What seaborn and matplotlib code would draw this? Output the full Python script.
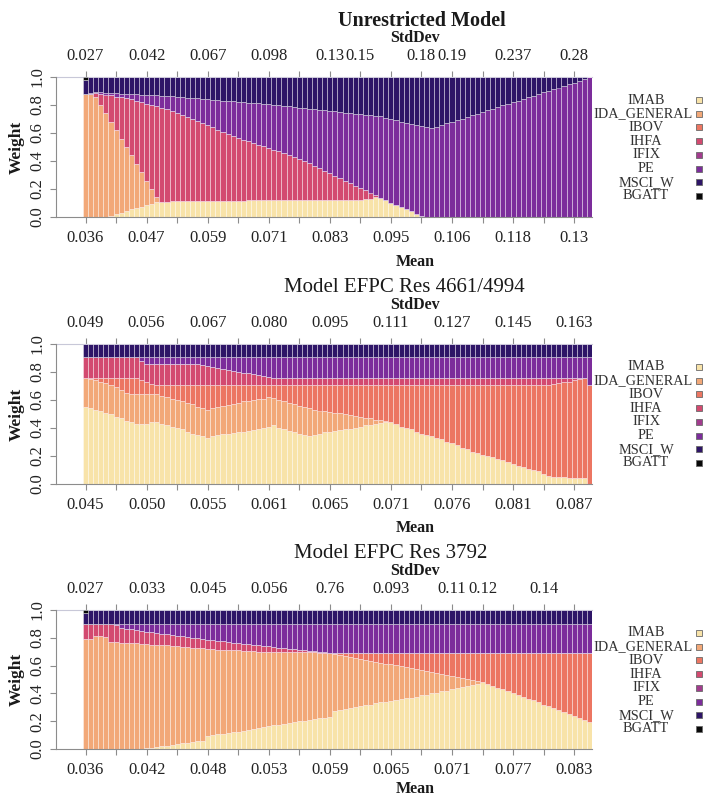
import numpy as np
import pandas as pd
import matplotlib
matplotlib.use("Agg")
import matplotlib.pyplot as plt
import seaborn as sns
from matplotlib.patches import Rectangle

# ---------------- data ----------------
assets = ["IMAB", "IDA_GENERAL", "IBOV", "IHFA", "IFIX", "PE", "MSCI_W", "BGATT"]
colors = ["#F8E3A9", "#F2A878", "#EC7662", "#D34A70", "#A23C8E", "#7C2D9B", "#2E1567", "#080808"]

tick_idx = list(range(0, 97, 6))

# Panel 1 - cumulative upper edge of each asset band
p1_imab = [0, 0, 0, 0, 0, 0.01, 0.02, 0.03, 0.045, 0.055,
           0.065, 0.075, 0.085, 0.095, 0.105, 0.11, 0.11, 0.112, 0.112, 0.113,
           0.113, 0.114, 0.114, 0.115, 0.115, 0.115, 0.116, 0.116, 0.116, 0.117,
           0.117, 0.117, 0.118, 0.118, 0.118, 0.119, 0.119, 0.119, 0.12, 0.12,
           0.12, 0.12, 0.121, 0.121, 0.121, 0.122, 0.122, 0.122, 0.123, 0.123,
           0.123, 0.124, 0.124, 0.125, 0.125, 0.127, 0.132, 0.14, 0.135, 0.12,
           0.10, 0.085, 0.07, 0.055, 0.04, 0.025, 0.01, 0, 0, 0] + [0] * 30
p1_ida = [0.88, 0.88, 0.86, 0.80, 0.74, 0.68, 0.62, 0.56, 0.50, 0.44,
          0.38, 0.32, 0.26, 0.20, 0.14] + p1_imab[15:]
p1_ibov = list(p1_ida)
p1_ihfa = [0.88, 0.88, 0.885, 0.88, 0.875, 0.87, 0.86, 0.855, 0.85, 0.84,
           0.83, 0.82, 0.81, 0.80, 0.79, 0.78, 0.77, 0.755, 0.745, 0.73,
           0.715, 0.70, 0.685, 0.67, 0.655, 0.64, 0.625, 0.61, 0.595, 0.58,
           0.565, 0.55, 0.54, 0.53, 0.515, 0.505, 0.495, 0.48, 0.47, 0.455,
           0.445, 0.43, 0.415, 0.40, 0.385, 0.365, 0.35, 0.33, 0.315, 0.295,
           0.28, 0.26, 0.245, 0.225, 0.21, 0.19, 0.175, 0.155] + p1_imab[58:]
p1_ifix = list(p1_ihfa)
p1_pe = [0.88, 0.885, 0.89, 0.89, 0.888, 0.886, 0.884, 0.882, 0.88, 0.878,
         0.876, 0.874, 0.872, 0.87, 0.868, 0.866, 0.864, 0.862, 0.859, 0.856,
         0.853, 0.85, 0.847, 0.844, 0.841, 0.838, 0.835, 0.832, 0.829, 0.826,
         0.823, 0.82, 0.817, 0.814, 0.811, 0.808, 0.805, 0.802, 0.798, 0.794,
         0.79, 0.786, 0.782, 0.778, 0.774, 0.77, 0.766, 0.762, 0.758, 0.754,
         0.75, 0.746, 0.742, 0.738, 0.734, 0.73, 0.726, 0.722, 0.718, 0.71,
         0.70, 0.69, 0.68, 0.672, 0.664, 0.656, 0.648, 0.64, 0.635, 0.645,
         0.657, 0.668, 0.68, 0.692, 0.703, 0.715, 0.727, 0.738, 0.75, 0.762,
         0.773, 0.785, 0.797, 0.808, 0.82, 0.832, 0.843, 0.855, 0.867, 0.878,
         0.89, 0.902, 0.913, 0.925, 0.937, 0.948, 0.96, 0.972, 0.983, 1.0]
p1_msci = [0.98] + [1.0] * 99
p1_bgatt = [1.0] * 100
p1_mean_labels = ["0.036", "", "0.047", "", "0.059", "", "0.071", "", "0.083", "",
                  "0.095", "", "0.106", "", "0.118", "", "0.13"]
p1_std_labels = ["0.027", "", "0.042", "", "0.067", "", "0.098", "", "0.13", "0.15",
                 "", "0.18", "0.19", "", "0.237", "", "0.28"]

# Panel 2
p2_imab = [0.55, 0.54, 0.53, 0.52, 0.51, 0.50, 0.48, 0.47, 0.45, 0.44,
           0.43, 0.43, 0.43, 0.44, 0.44, 0.43, 0.42, 0.41, 0.40, 0.39,
           0.37, 0.36, 0.35, 0.34, 0.33, 0.34, 0.35, 0.355, 0.36, 0.365,
           0.37, 0.375, 0.38, 0.385, 0.39, 0.40, 0.41, 0.42, 0.40, 0.39,
           0.38, 0.37, 0.36, 0.35, 0.345, 0.35, 0.36, 0.37, 0.375, 0.38,
           0.385, 0.39, 0.39, 0.40, 0.41, 0.42, 0.425, 0.43, 0.435, 0.44,
           0.44, 0.43, 0.41, 0.40, 0.39, 0.37, 0.36, 0.35, 0.34, 0.33,
           0.32, 0.30, 0.29, 0.28, 0.26, 0.25, 0.23, 0.22, 0.21, 0.20,
           0.19, 0.18, 0.17, 0.155, 0.14, 0.13, 0.12, 0.11, 0.10, 0.09,
           0.075, 0.06, 0.05, 0.05, 0.05, 0.045, 0.045, 0.04, 0.04, 0.0]
p2_ida = [0.76, 0.75, 0.74, 0.73, 0.72, 0.71, 0.69, 0.67, 0.65, 0.64,
          0.64, 0.64, 0.64, 0.645, 0.64, 0.63, 0.62, 0.61, 0.60, 0.59,
          0.58, 0.57, 0.55, 0.54, 0.53, 0.54, 0.55, 0.56, 0.565, 0.57,
          0.58, 0.59, 0.595, 0.60, 0.605, 0.61, 0.62, 0.615, 0.60, 0.59,
          0.58, 0.57, 0.56, 0.55, 0.54, 0.53, 0.525, 0.52, 0.515, 0.51,
          0.505, 0.50, 0.49, 0.485, 0.48, 0.475, 0.47, 0.46, 0.455, 0.45] + p2_imab[60:]
p2_ibov = [0.76] * 11 + [0.745, 0.73, 0.715] + [0.71] * 78 + \
          [0.715, 0.72, 0.725, 0.73, 0.74, 0.75, 0.757, 0.71]
p2_ihfa = [0.905] * 11 + [0.88, 0.86] + [0.857] * 10 + \
          [0.85, 0.843, 0.836, 0.83, 0.823, 0.816, 0.81, 0.803, 0.796, 0.79,
           0.783, 0.776, 0.77, 0.763, 0.76] + [0.757] * 61 + [0.71]
p2_ifix = list(p2_ihfa)
p2_pe = [0.905] * 99 + [0.91]
p2_msci = [1.0] * 100
p2_bgatt = [1.0] * 100
p2_mean_labels = ["0.045", "", "0.050", "", "0.055", "", "0.061", "", "0.065", "",
                  "0.071", "", "0.076", "", "0.081", "", "0.087"]
p2_std_labels = ["0.049", "", "0.056", "", "0.067", "", "0.080", "", "0.095", "",
                 "0.111", "", "0.127", "", "0.145", "", "0.163"]

# Panel 3
p3_imab = [0] * 12 + [0.005, 0.01, 0.015, 0.02, 0.025, 0.03, 0.035, 0.04,
           0.045, 0.05, 0.055, 0.06, 0.09, 0.10, 0.105, 0.11, 0.115, 0.12,
           0.125, 0.13, 0.14, 0.145, 0.15, 0.16, 0.165, 0.17, 0.175, 0.18,
           0.19, 0.195, 0.20, 0.205, 0.21, 0.215, 0.22, 0.225, 0.23, 0.27,
           0.28, 0.29, 0.295, 0.30, 0.31, 0.315, 0.32, 0.33, 0.335, 0.34,
           0.345, 0.35, 0.36, 0.365, 0.37, 0.375, 0.385, 0.39, 0.40, 0.405,
           0.415, 0.42, 0.43, 0.44, 0.445, 0.455, 0.46, 0.47, 0.48, 0.47,
           0.455, 0.44, 0.43, 0.415, 0.40, 0.39, 0.375, 0.36, 0.35, 0.335,
           0.32, 0.31, 0.295, 0.28, 0.265, 0.25, 0.235, 0.225, 0.21, 0.195]
p3_ida = [0.79, 0.79, 0.81, 0.81, 0.805, 0.77, 0.77, 0.765, 0.765, 0.76,
          0.76, 0.755, 0.755, 0.75, 0.75, 0.745, 0.745, 0.74, 0.74, 0.735,
          0.735, 0.73, 0.73, 0.725, 0.72, 0.72, 0.715, 0.715, 0.71, 0.71,
          0.71, 0.705, 0.705, 0.705, 0.70, 0.70, 0.70, 0.70, 0.698, 0.698,
          0.697, 0.697, 0.696, 0.696, 0.695, 0.695, 0.694, 0.694, 0.693, 0.685,
          0.678, 0.671, 0.664, 0.657, 0.65, 0.643, 0.636, 0.629, 0.622, 0.615,
          0.608, 0.601, 0.594, 0.587, 0.58, 0.573, 0.566, 0.559, 0.552, 0.545,
          0.538, 0.531, 0.524, 0.517, 0.51, 0.503, 0.496, 0.489] + p3_imab[78:]
p3_ibov = p3_ida[:48] + [0.693] * 52
p3_ihfa = [0.90] * 6 + [0.895, 0.87, 0.865, 0.86,
           0.855, 0.85, 0.845, 0.84, 0.835, 0.83, 0.825, 0.82, 0.815, 0.81,
           0.805, 0.80, 0.795, 0.79, 0.786, 0.782, 0.778, 0.774, 0.77, 0.766,
           0.762, 0.758, 0.754, 0.75, 0.746, 0.742, 0.738, 0.734, 0.73, 0.726,
           0.722, 0.718, 0.714, 0.71, 0.706, 0.702, 0.698, 0.695] + [0.693] * 52
p3_ifix = list(p3_ihfa)
p3_pe = [0.90] * 100
p3_msci = [0.98] + [1.0] * 99
p3_bgatt = [1.0] * 100
p3_mean_labels = ["0.036", "", "0.042", "", "0.048", "", "0.053", "", "0.059", "",
                  "0.065", "", "0.071", "", "0.077", "", "0.083"]
p3_std_labels = ["0.027", "", "0.033", "", "0.045", "", "0.056", "", "0.76", "",
                 "0.093", "", "0.11", "0.12", "", "0.14", ""]

titles = ["Unrestricted Model", "Model EFPC Res 4661/4994", "Model EFPC Res 3792"]

# ---------------- style ----------------
sns.set_style("white")
plt.rcParams["font.family"] = ["Liberation Serif", "DejaVu Serif"]
plt.rcParams["text.color"] = "#1a1a1a"

W, H = 706, 800
fig = plt.figure(figsize=(W / 100, H / 100), dpi=100)


def fx(px):
    return px / W


def fy(py):
    return 1 - py / H


panels = [
    dict(tops=[p1_imab, p1_ida, p1_ibov, p1_ihfa, p1_ifix, p1_pe, p1_msci, p1_bgatt],
         mean_labels=p1_mean_labels, std_labels=p1_std_labels, title=titles[0],
         tx=422, tweight="bold", tsize=14.5, top=77, bottom=217, mean_y=262),
    dict(tops=[p2_imab, p2_ida, p2_ibov, p2_ihfa, p2_ifix, p2_pe, p2_msci, p2_bgatt],
         mean_labels=p2_mean_labels, std_labels=p2_std_labels, title=titles[1],
         tx=404, tweight="normal", tsize=15, top=344, bottom=484, mean_y=528),
    dict(tops=[p3_imab, p3_ida, p3_ibov, p3_ihfa, p3_ifix, p3_pe, p3_msci, p3_bgatt],
         mean_labels=p3_mean_labels, std_labels=p3_std_labels, title=titles[2],
         tx=391, tweight="normal", tsize=15, top=610, bottom=749, mean_y=789),
]

palette = dict(zip(assets, colors))
spine_col = "#8c8c8c"
lab_col = "#222222"

for p in panels:
    tops = np.vstack([np.zeros(len(p["tops"][0]))] + [np.asarray(t, float) for t in p["tops"]])
    w = np.clip(np.diff(tops, axis=0), 0, None)
    n = w.shape[1]
    rows = []
    for k, a in enumerate(assets):
        for i in range(n):
            rows.append((i, a, w[k, i]))
    df = pd.DataFrame(rows, columns=["point", "asset", "weight"])

    ax = fig.add_axes([fx(56), fy(p["bottom"]), fx(592) - fx(56), (p["bottom"] - p["top"]) / H])
    sns.histplot(data=df, x="point", weights="weight", hue="asset",
                 hue_order=assets[::-1], palette=palette, multiple="stack",
                 discrete=True, shrink=1, alpha=1, edgecolor=(1, 1, 1, 0.45),
                 linewidth=0.6, legend=False, ax=ax)
    ax.set_xlim(-5.8, n - 0.5)
    ax.set_ylim(0, 1)
    ax.set_xlabel("")
    ax.set_ylabel("")
    ax.set_xticks(tick_idx)
    ax.set_xticklabels(p["mean_labels"])
    ax.set_yticks([0, 0.2, 0.4, 0.6, 0.8, 1.0])
    ax.set_yticklabels(["0.0", "0.2", "0.4", "0.6", "0.8", "1.0"], rotation=90, va="center")
    ax.tick_params(axis="both", which="both", bottom=True, left=True, direction="out",
                   length=4.5, width=0.8, color=spine_col, labelsize=12, labelcolor=lab_col)
    ax.tick_params(axis="x", pad=5)
    ax.tick_params(axis="y", pad=3)
    for s in ["right", "top"]:
        ax.spines[s].set_visible(False)
    for s in ["left", "bottom"]:
        ax.spines[s].set_color(spine_col)
        ax.spines[s].set_linewidth(0.8)

    sec = ax.secondary_xaxis("top")
    sec.set_xticks(tick_idx)
    sec.set_xticklabels(p["std_labels"])
    sec.tick_params(direction="out", length=4.5, width=0.8, color=spine_col,
                    labelsize=12, labelcolor=lab_col, pad=5)
    sec.spines["top"].set_color("#c8c8d8")
    sec.spines["top"].set_linewidth(0.8)

    # titles and axis labels
    fig.text(fx(p["tx"]), fy(p["top"] - 56), p["title"], ha="center", va="center",
             fontsize=p["tsize"], fontweight=p["tweight"])
    fig.text(fx(415), fy(p["top"] - 39), "StdDev", ha="center", va="center",
             fontsize=11.5, fontweight="bold")
    fig.text(fx(415), fy(p["mean_y"]), "Mean", ha="center", va="center",
             fontsize=11.5, fontweight="bold")
    fig.text(fx(17), fy((p["top"] + p["bottom"]) / 2), "Weight", ha="center", va="center",
             rotation=90, fontsize=12.5, fontweight="bold")

    # legend
    for r, (a, c) in enumerate(zip(assets, colors)):
        yy = p["top"] + 23 + 13.7 * r
        cx = 643.5 if a == "IDA_GENERAL" else 646
        fig.text(fx(cx), fy(yy), a, ha="center", va="center", fontsize=10.3, color="#333333")
        fig.add_artist(Rectangle((fx(696), fy(yy + 3)), 6 / W, 6 / H,
                                 transform=fig.transFigure, facecolor=c,
                                 edgecolor="#6a6a6a", linewidth=0.6))

fig.savefig("out.png", dpi=100)
